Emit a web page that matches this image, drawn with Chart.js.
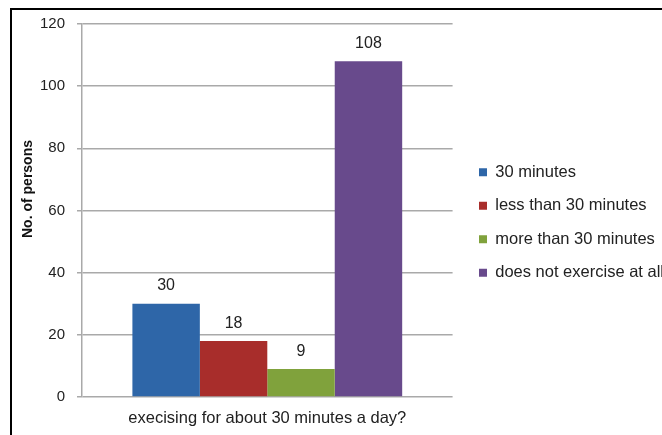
<!DOCTYPE html>
<html>
<head>
<meta charset="utf-8">
<script src="https://cdn.jsdelivr.net/npm/chart.js@4/dist/chart.umd.min.js"></script>
<style>
  html, body { margin: 0; padding: 0; background: #fff; overflow: hidden; }
  #wrap { position: relative; width: 662px; height: 435px; overflow: hidden; }
  #c { position: absolute; left: 0; top: 0; }
  #frame {
    position: absolute; left: 10px; top: 8px; width: 720px; height: 520px;
    border: 2.5px solid #000; box-sizing: border-box; pointer-events: none;
  }
</style>
</head>
<body>
<div id="wrap">
  <canvas id="c" width="662" height="435"></canvas>
  <div id="frame"></div>
</div>
<script>
// Survey: how long people exercise per day
const categories = ['execising for about 30 minutes a day?'];
const seriesNames = ['30 minutes', 'less than 30 minutes', 'more than 30 minutes', 'does not exercise at all'];
const seriesValues = [30, 18, 9, 108];
const seriesColors = ['#2E66A8', '#A82D2B', '#80A23C', '#684A8C'];
const yTickMin = 0;
const yTickMax = 120;
const yTickStep = 20;
const yTitle = 'No. of persons';

const FONT = '"Liberation Sans", Arial, Helvetica, sans-serif';
const TEXT = '#222222';
const GRID = '#a9a9a9';

// value printed above each bar
const valueLabels = {
  id: 'valueLabels',
  afterDatasetsDraw(chart) {
    const ctx = chart.ctx;
    ctx.save();
    ctx.font = '16px ' + FONT;
    ctx.fillStyle = TEXT;
    ctx.textAlign = 'center';
    ctx.textBaseline = 'alphabetic';
    chart.data.datasets.forEach((ds, i) => {
      chart.getDatasetMeta(i).data.forEach((bar, j) => {
        ctx.fillText(String(ds.data[j]), bar.x, bar.y - 13.5);
      });
    });
    ctx.restore();
  }
};

// rotated y-axis title
const yAxisTitle = {
  id: 'yAxisTitle',
  afterDraw(chart) {
    const ctx = chart.ctx;
    ctx.save();
    ctx.translate(28, 189);
    ctx.rotate(-Math.PI / 2);
    ctx.font = 'bold 14px ' + FONT;
    ctx.fillStyle = '#111';
    ctx.textAlign = 'center';
    ctx.textBaseline = 'middle';
    ctx.fillText(yTitle, 0, 0);
    ctx.restore();
  }
};

const datasets = seriesNames.map((name, i) => ({
  label: name,
  data: [seriesValues[i]],
  backgroundColor: seriesColors[i],
  borderWidth: 0,
  categoryPercentage: 0.728,
  barPercentage: 1.0
}));

new Chart(document.getElementById('c'), {
  type: 'bar',
  data: { labels: categories, datasets },
  options: {
    responsive: false,
    animation: false,
    devicePixelRatio: 1,
    layout: { padding: { top: 24, left: 0, right: -12, bottom: 0 } },
    plugins: {
      tooltip: { enabled: false },
      legend: {
        position: 'right',
        align: 'center',
        fullSize: false,
        maxWidth: 300,
        title: { display: true, text: ' ', font: { size: 10, lineHeight: 1 }, padding: { top: 7, bottom: 7 } },
        labels: {
          boxWidth: 8,
          boxHeight: 8,
          padding: 17,
          color: TEXT,
          font: { family: FONT, size: 16.5 }
        }
      }
    },
    scales: {
      x: {
        grid: { display: false, drawTicks: false },
        border: { display: false },
        ticks: { color: TEXT, font: { family: FONT, size: 16.5 }, padding: 12 },
        afterFit(s) { s.height = 38; }
      },
      y: {
        min: yTickMin,
        max: yTickMax,
        ticks: { stepSize: yTickStep, color: TEXT, font: { family: FONT, size: 15 }, padding: 12 },
        grid: { color: GRID, lineWidth: 1.5, tickLength: 5 },
        border: { color: GRID, width: 1.5 },
        afterFit(s) { s.width = 82; }
      },
      gap: {
        type: 'linear',
        position: 'right',
        display: true,
        grid: { display: false, drawTicks: false },
        ticks: { display: false },
        border: { display: false },
        afterFit(s) { s.width = 9.4; }
      }
    }
  },
  plugins: [valueLabels, yAxisTitle]
});
</script>
</body>
</html>
